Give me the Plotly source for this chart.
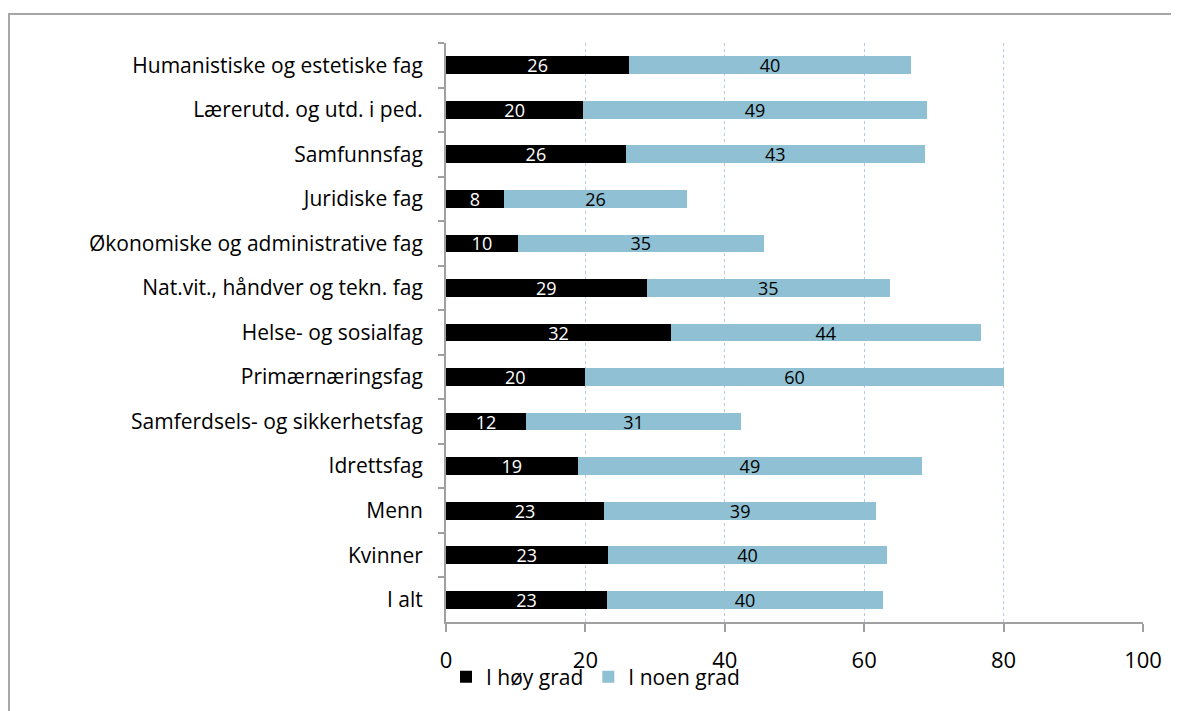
import plotly.graph_objects as go

# categories, top to bottom
categories = [
    "Humanistiske og estetiske fag",
    "Lærerutd. og utd. i ped.",
    "Samfunnsfag",
    "Juridiske fag",
    "Økonomiske og administrative fag",
    "Nat.vit., håndver og tekn. fag",
    "Helse- og sosialfag",
    "Primærnæringsfag",
    "Samferdsels- og sikkerhetsfag",
    "Idrettsfag",
    "Menn",
    "Kvinner",
    "I alt",
]

# percent, "I høy grad"
hoy_grad = [26.3, 19.7, 25.8, 8.3, 10.3, 28.8, 32.3, 19.9, 11.5, 18.9, 22.7, 23.2, 23.1]
hoy_labels = ["26", "20", "26", "8", "10", "29", "32", "20", "12", "19", "23", "23", "23"]

# percent, "I noen grad"
noen_grad = [40.4, 49.3, 42.9, 26.3, 35.3, 34.9, 44.4, 60.2, 30.8, 49.4, 39.0, 40.1, 39.6]
noen_labels = ["40", "49", "43", "26", "35", "35", "44", "60", "31", "49", "39", "40", "40"]

x_ticks = [0, 20, 40, 60, 80, 100]

FONT = "Open Sans"

fig = go.Figure()

fig.add_trace(go.Bar(
    y=categories, x=hoy_grad, orientation="h", name="I høy grad",
    marker=dict(color="#000000", line=dict(width=0)),
    text=hoy_labels, textposition="inside", insidetextanchor="middle",
    textfont=dict(color="white", size=18, family=FONT),
    textangle=0,
))
fig.add_trace(go.Bar(
    y=categories, x=noen_grad, orientation="h", name="I noen grad",
    marker=dict(color="#8fc0d3", line=dict(width=0)),
    text=noen_labels, textposition="inside", insidetextanchor="middle",
    textfont=dict(color="black", size=18, family=FONT),
    textangle=0,
))

# outer chart frame
fig.add_shape(type="rect", xref="paper", yref="paper",
              x0=-0.627, x1=1.2, y0=-0.3, y1=1.050,
              line=dict(color="#a6a6a6", width=2), layer="below")

fig.update_layout(
    barmode="stack",
    bargap=0.6,
    width=1179, height=711,
    margin=dict(l=438, r=44, t=35, b=97),
    paper_bgcolor="white", plot_bgcolor="white",
    font=dict(family=FONT, color="black", size=21),
    uniformtext=dict(mode="show", minsize=10),
    showlegend=True,
    legend=dict(orientation="h", x=0.0, y=-0.095, xanchor="left", yanchor="middle",
                font=dict(size=21, family=FONT), traceorder="normal",
                itemwidth=30, bgcolor="rgba(0,0,0,0)"),
)

fig.update_xaxes(
    range=[0, 100], tickvals=x_ticks, ticktext=[str(t) for t in x_ticks],
    showgrid=True, gridcolor="#b8c9e6", griddash="dot", gridwidth=1,
    showline=True, linecolor="#a0a0a0", linewidth=2,
    ticks="outside", ticklen=8, tickcolor="#a0a0a0", tickwidth=2,
    tickfont=dict(size=22, family=FONT), zeroline=False,
    ticklabelstandoff=10,
)
fig.update_yaxes(
    autorange="reversed", tickson="boundaries",
    showline=True, linecolor="#a0a0a0", linewidth=2,
    ticks="outside", ticklen=6, tickcolor="#a0a0a0", tickwidth=2,
    tickfont=dict(size=21, family=FONT), showgrid=False,
    ticklabelstandoff=17,
)

fig.write_html("out.html")
